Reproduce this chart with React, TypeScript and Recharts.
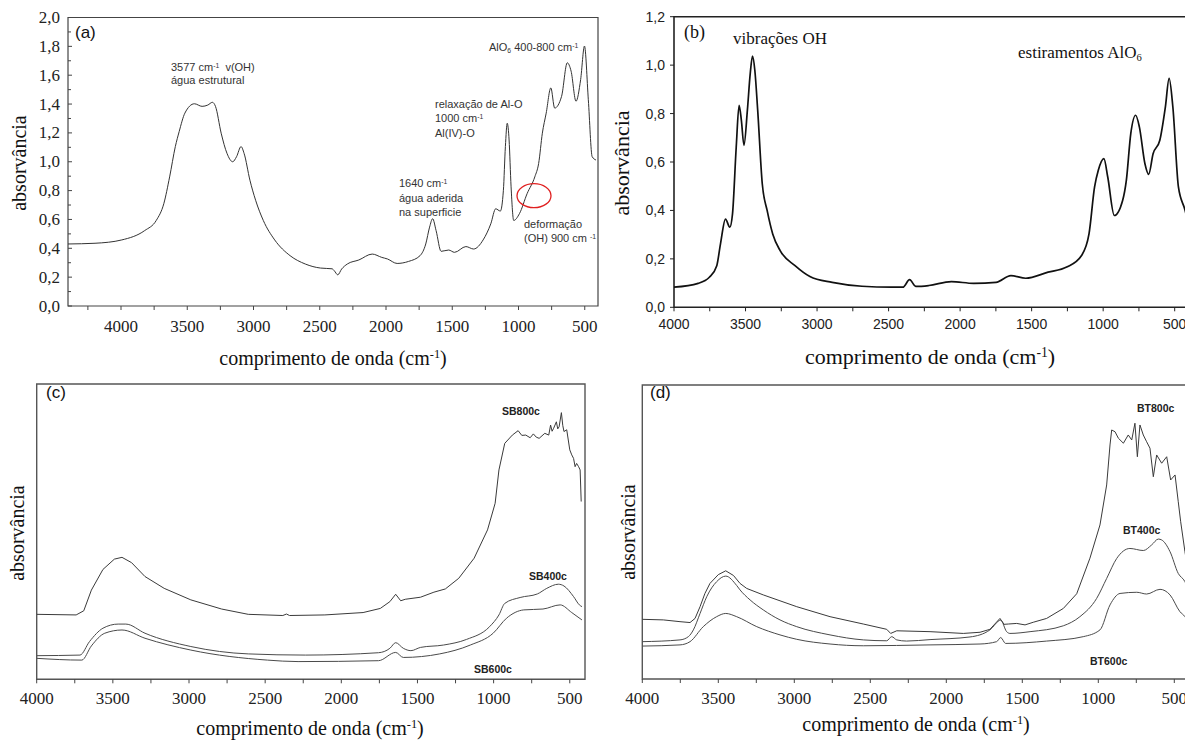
import React from "react";
import {
  LineChart,
  Line,
  XAxis,
  YAxis,
  ReferenceArea,
  ReferenceDot,
} from "recharts";

const SERIF = "'Liberation Serif', 'Times New Roman', serif";
const SANS = "'Liberation Sans', Arial, sans-serif";

// [número de onda (cm-1), absorvância]
const amostraA = [
  [4400, 0.43], [4196, 0.435], [3994, 0.458], [3821, 0.523], [3734, 0.593],
  [3677, 0.709], [3633, 0.895], [3590, 1.105], [3561, 1.209], [3518, 1.337],
  [3446, 1.402], [3388, 1.384], [3345, 1.393], [3310, 1.412], [3287, 1.384],
  [3244, 1.198], [3200, 1.058], [3157, 1.0], [3128, 1.035], [3094, 1.105],
  [3071, 1.058], [3027, 0.872], [2984, 0.733], [2926, 0.593], [2840, 0.458],
  [2724, 0.349], [2609, 0.291], [2494, 0.263], [2407, 0.258], [2390, 0.244],
  [2364, 0.216], [2335, 0.256], [2292, 0.291], [2205, 0.319], [2104, 0.36],
  [2032, 0.337], [1989, 0.326], [1916, 0.295], [1830, 0.309], [1743, 0.349],
  [1700, 0.43], [1671, 0.547], [1648, 0.605], [1622, 0.523], [1584, 0.379],
  [1527, 0.388], [1483, 0.372], [1397, 0.412], [1339, 0.395], [1267, 0.458],
  [1209, 0.57], [1172, 0.674], [1137, 0.658], [1114, 0.802], [1099, 1.105],
  [1085, 1.267], [1071, 1.151], [1056, 0.826], [1036, 0.593], [993, 0.64],
  [935, 0.779], [877, 0.895], [848, 0.988], [820, 1.198], [791, 1.337],
  [756, 1.512], [727, 1.372], [675, 1.453], [632, 1.686], [603, 1.628],
  [566, 1.419], [531, 1.57], [502, 1.802], [473, 1.43], [444, 1.035],
  [415, 1.012],
];

const amostraB = [
  [4000, 0.083], [3831, 0.099], [3753, 0.124], [3701, 0.172], [3675, 0.262],
  [3640, 0.364], [3610, 0.331], [3591, 0.386], [3565, 0.662], [3545, 0.834],
  [3529, 0.772], [3511, 0.669], [3487, 0.814], [3467, 0.966], [3451, 1.037],
  [3435, 0.979], [3415, 0.814], [3383, 0.51], [3349, 0.4], [3310, 0.303],
  [3258, 0.234], [3154, 0.172], [3050, 0.127], [2894, 0.103], [2686, 0.087],
  [2478, 0.083], [2400, 0.083], [2353, 0.114], [2309, 0.086], [2218, 0.09],
  [2061, 0.106], [1905, 0.099], [1749, 0.103], [1645, 0.131], [1541, 0.12],
  [1385, 0.145], [1255, 0.166], [1151, 0.214], [1099, 0.303], [1060, 0.497],
  [1034, 0.566], [995, 0.614], [968, 0.538], [922, 0.379], [864, 0.441],
  [838, 0.524], [807, 0.717], [773, 0.793], [747, 0.745], [708, 0.593],
  [682, 0.549], [651, 0.634], [604, 0.69], [565, 0.828], [539, 0.945],
  [513, 0.828], [474, 0.497], [427, 0.4], [400, 0.33],
];

// (c) escala arbitrária
const sb800 = [
  [4000, 0.22], [3741, 0.218], [3691, 0.232], [3641, 0.302], [3565, 0.372],
  [3490, 0.407], [3440, 0.413], [3377, 0.395], [3289, 0.348], [3163, 0.308],
  [2988, 0.269], [2786, 0.238], [2611, 0.22], [2384, 0.216], [2360, 0.221],
  [2340, 0.216], [2108, 0.218], [1857, 0.226], [1744, 0.24], [1681, 0.263],
  [1643, 0.288], [1610, 0.266], [1580, 0.271], [1480, 0.278], [1392, 0.295],
  [1317, 0.306], [1229, 0.342], [1128, 0.41], [1040, 0.506], [990, 0.596],
  [965, 0.709], [927, 0.799], [877, 0.827], [839, 0.842], [815, 0.826],
  [789, 0.827], [760, 0.818], [739, 0.831], [720, 0.82], [701, 0.816],
  [664, 0.833], [638, 0.827], [626, 0.861], [616, 0.84], [606, 0.85],
  [588, 0.872], [579, 0.848], [570, 0.855], [555, 0.903], [546, 0.86],
  [538, 0.839], [520, 0.845], [500, 0.777], [487, 0.76], [475, 0.748],
  [465, 0.72], [455, 0.731], [442, 0.72], [432, 0.709], [425, 0.602],
];
const sb400 = [
  [4000, 0.08], [3716, 0.082], [3653, 0.128], [3565, 0.173], [3465, 0.187],
  [3415, 0.187], [3289, 0.156], [2988, 0.111], [2611, 0.086], [2234, 0.082],
  [1756, 0.09], [1681, 0.105], [1643, 0.124], [1593, 0.105], [1543, 0.097],
  [1480, 0.108], [1329, 0.116], [1178, 0.135], [1027, 0.178], [965, 0.218],
  [927, 0.257], [826, 0.277], [713, 0.289], [651, 0.308], [575, 0.322],
  [538, 0.316], [475, 0.28], [437, 0.252], [420, 0.246],
];
const sb600 = [
  [4000, 0.071], [3704, 0.065], [3641, 0.113], [3553, 0.156], [3440, 0.167],
  [3289, 0.139], [2988, 0.099], [2485, 0.065], [2284, 0.06], [1756, 0.063],
  [1643, 0.091], [1593, 0.074], [1354, 0.086], [1153, 0.116], [1003, 0.156],
  [915, 0.207], [802, 0.235], [676, 0.238], [563, 0.252], [487, 0.226],
  [420, 0.201],
];

// (d) escala arbitrária
const bt800 = [
  [4000, 0.203], [3862, 0.201], [3752, 0.195], [3686, 0.192], [3653, 0.206],
  [3620, 0.246], [3588, 0.291], [3555, 0.325], [3500, 0.355], [3451, 0.368],
  [3400, 0.352], [3357, 0.325], [3313, 0.308], [3204, 0.286], [2984, 0.246],
  [2765, 0.212], [2546, 0.187], [2392, 0.169], [2366, 0.155], [2326, 0.164],
  [2107, 0.161], [1888, 0.155], [1778, 0.159], [1713, 0.169], [1647, 0.206],
  [1620, 0.186], [1592, 0.187], [1537, 0.189], [1482, 0.184], [1428, 0.193],
  [1340, 0.206], [1230, 0.24], [1142, 0.29], [1055, 0.411], [989, 0.524],
  [945, 0.66], [923, 0.796], [912, 0.847], [890, 0.841], [868, 0.819],
  [835, 0.802], [803, 0.83], [780, 0.813], [759, 0.87], [743, 0.756],
  [726, 0.864], [704, 0.83], [682, 0.807], [660, 0.785], [638, 0.688],
  [616, 0.762], [583, 0.734], [550, 0.756], [524, 0.677], [495, 0.694],
  [474, 0.603], [458, 0.535], [430, 0.433], [410, 0.37],
];
const bt400 = [
  [4000, 0.127], [3752, 0.133], [3697, 0.144], [3664, 0.167], [3620, 0.223],
  [3576, 0.28], [3511, 0.331], [3451, 0.35], [3379, 0.318], [3357, 0.303],
  [3291, 0.269], [3204, 0.235], [3094, 0.201], [2984, 0.178], [2765, 0.15],
  [2546, 0.133], [2392, 0.13], [2359, 0.144], [2326, 0.133], [2261, 0.129],
  [2107, 0.134], [1844, 0.143], [1713, 0.167], [1642, 0.2], [1603, 0.161],
  [1581, 0.155], [1449, 0.161], [1230, 0.181], [1121, 0.212], [1011, 0.274],
  [945, 0.342], [879, 0.41], [792, 0.444], [704, 0.437], [649, 0.456],
  [605, 0.476], [583, 0.473], [528, 0.433], [474, 0.359], [430, 0.331],
  [405, 0.3],
];
const bt600 = [
  [4000, 0.112], [3752, 0.116], [3686, 0.127], [3599, 0.178], [3511, 0.212],
  [3451, 0.223], [3379, 0.212], [3247, 0.178], [3094, 0.15], [2984, 0.135],
  [2765, 0.119], [2546, 0.113], [2107, 0.116], [1778, 0.119], [1669, 0.127],
  [1642, 0.141], [1610, 0.121], [1340, 0.129], [1099, 0.144], [989, 0.167],
  [923, 0.252], [857, 0.291], [747, 0.295], [682, 0.289], [594, 0.305],
  [528, 0.286], [463, 0.229], [430, 0.212], [405, 0.19],
];

const ticksX = [500, 750, 1000, 1250, 1500, 1750, 2000, 2250, 2500, 2750, 3000, 3250, 3500, 3750, 4000];
const ticksXA = [...ticksX, 4250];
const ticksYA = [0, 0.1, 0.2, 0.3, 0.4, 0.5, 0.6, 0.7, 0.8, 0.9, 1, 1.1, 1.2, 1.3, 1.4, 1.5, 1.6, 1.7, 1.8, 1.9, 2];
const ticksYB = [0, 0.2, 0.4, 0.6, 0.8, 1, 1.2];

const pts = (arr: number[][]) => arr.map(([wn, a]) => ({ wn, a }));
const virgula = (v: number) => v.toFixed(1).replace(".", ",");

const xTick = (font: string, size: number, gap: number, color: string) => (p: any) => {
  const v = p.payload.value;
  return (
    <g>
      <line x1={p.x} y1={p.y} x2={p.x} y2={p.y + 4} stroke={color} strokeWidth={1} />
      {v % 500 === 0 && (
        <text x={p.x} y={p.y + gap} textAnchor="middle" dominantBaseline="central"
          fontFamily={font} fontSize={size} fill="#222">
          {v}
        </text>
      )}
    </g>
  );
};

const yTickA = (p: any) => {
  const v = p.payload.value;
  const major = Math.round(v * 10) % 2 === 0;
  return (
    <g>
      <line x1={p.x} y1={p.y} x2={p.x + (major ? 4 : 3)} y2={p.y} stroke="#444" strokeWidth={1} />
      {major && (
        <text x={p.x - 8} y={p.y} textAnchor="end" dominantBaseline="central"
          fontFamily={SERIF} fontSize={17} fill="#222">
          {virgula(v)}
        </text>
      )}
    </g>
  );
};

const yTickB = (p: any) => (
  <g>
    <line x1={p.x} y1={p.y} x2={p.x - 4} y2={p.y} stroke="#222" strokeWidth={1} />
    <text x={p.x - 9} y={p.y} textAnchor="end" dominantBaseline="central"
      fontFamily={SANS} fontSize={14} fill="#222">
      {virgula(p.payload.value)}
    </text>
  </g>
);

const Note = ({ x, y, size, font = SANS, color = "#333", children }: any) => (
  <div style={{ position: "absolute", left: x, top: y - size * 0.6, fontSize: size,
    lineHeight: `${size * 1.2}px`, fontFamily: font, color, whiteSpace: "nowrap" }}>
    {children}
  </div>
);

const Sup = ({ children }: any) => (
  <span style={{ fontSize: "0.62em", position: "relative", top: "-0.55em" }}>{children}</span>
);
const Sub = ({ children }: any) => (
  <span style={{ fontSize: "0.62em", position: "relative", top: "0.3em" }}>{children}</span>
);

const TituloX = ({ x, y, size = 20 }: any) => (
  <div style={{ position: "absolute", left: x, top: y, transform: "translate(-50%, -50%)",
    fontFamily: SERIF, fontSize: size, whiteSpace: "nowrap", color: "#111" }}>
    comprimento de onda (cm<Sup>-1</Sup>)
  </div>
);
const TituloY = ({ x, y, size = 20 }: any) => (
  <div style={{ position: "absolute", left: x, top: y,
    transform: "translate(-50%, -50%) rotate(-90deg)", fontFamily: SERIF, fontSize: size,
    whiteSpace: "nowrap", color: "#111" }}>
    absorvância
  </div>
);

const elipse = (p: any) => (
  <ellipse cx={p.cx} cy={p.cy} rx={17} ry={12} fill="none" stroke="#e02020" strokeWidth={1.3} />
);

const xCommon = {
  type: "number" as const,
  dataKey: "wn",
  reversed: true,
  allowDataOverflow: true,
  interval: 0 as const,
  height: 30,
  axisLine: false,
  tickLine: false,
  tickSize: 0,
  tickMargin: 0,
};

const App: React.FC = () => {
  return (
    <div style={{ position: "absolute", left: 0, top: 0, width: 1185, height: 742,
      overflow: "hidden", background: "#fff" }}>
      {/* (a) */}
      <div style={{ position: "absolute", left: 0, top: 0 }}>
        <LineChart width={610} height={370} margin={{ top: 17.5, right: 12, bottom: 34, left: 8 }}>
          <XAxis {...xCommon} domain={[400, 4400]} ticks={ticksXA} tick={xTick(SERIF, 17, 20, "#444")} />
          <YAxis type="number" domain={[0, 2]} ticks={ticksYA} interval={0} width={60}
            allowDataOverflow axisLine={false} tickLine={false} tickSize={0} tickMargin={0} tick={yTickA} />
          <ReferenceArea x1={400} x2={4400} y1={0} y2={2} fill="none" stroke="#444" strokeWidth={1.2} />
          <ReferenceDot x={883} y={0.765} r={12} shape={elipse} />
          <Line data={pts(amostraA)} dataKey="a" type="monotone" stroke="#333" strokeWidth={1}
            dot={false} isAnimationActive={false} />
        </LineChart>
      </div>

      {/* (b) */}
      <div style={{ position: "absolute", left: 600, top: 0 }}>
        <LineChart width={600} height={370} margin={{ top: 16.7, right: 11, bottom: 32.7, left: 14 }}>
          <XAxis {...xCommon} domain={[400, 4000]} ticks={ticksX} tick={xTick(SANS, 14, 17, "#222")} />
          <YAxis type="number" domain={[0, 1.2]} ticks={ticksYB} interval={0} width={60}
            allowDataOverflow axisLine={false} tickLine={false} tickSize={0} tickMargin={0} tick={yTickB} />
          <ReferenceArea x1={400} x2={4000} y1={0} y2={1.2} fill="none" stroke="#222" strokeWidth={1.6} />
          <Line data={pts(amostraB)} dataKey="a" type="monotone" stroke="#111" strokeWidth={1.7}
            dot={false} isAnimationActive={false} />
        </LineChart>
      </div>

      {/* (c) */}
      <div style={{ position: "absolute", left: 0, top: 370 }}>
        <LineChart width={600} height={372} margin={{ top: 14, right: 15, bottom: 32.7, left: 36.7 }}>
          <XAxis {...xCommon} domain={[400, 4000]} ticks={ticksX} tick={xTick(SERIF, 17, 19, "#444")} />
          <YAxis hide type="number" domain={[0, 1]} allowDataOverflow />
          <ReferenceArea x1={400} x2={4000} y1={0} y2={1} fill="none" stroke="#555" strokeWidth={1.4} />
          <Line data={pts(sb800)} dataKey="a" type="linear" stroke="#3a3a3a" strokeWidth={1}
            dot={false} isAnimationActive={false} />
          <Line data={pts(sb400)} dataKey="a" type="monotone" stroke="#4a4a4a" strokeWidth={1}
            dot={false} isAnimationActive={false} />
          <Line data={pts(sb600)} dataKey="a" type="monotone" stroke="#4a4a4a" strokeWidth={1}
            dot={false} isAnimationActive={false} />
        </LineChart>
      </div>

      {/* (d) */}
      <div style={{ position: "absolute", left: 600, top: 370 }}>
        <LineChart width={600} height={372} margin={{ top: 15, right: 10.5, bottom: 33, left: 42.3 }}>
          <XAxis {...xCommon} domain={[400, 4000]} ticks={ticksX} tick={xTick(SERIF, 17, 19, "#444")} />
          <YAxis hide type="number" domain={[0, 1]} allowDataOverflow />
          <ReferenceArea x1={400} x2={4000} y1={0} y2={1} fill="none" stroke="#555" strokeWidth={1.4} />
          <Line data={pts(bt800)} dataKey="a" type="linear" stroke="#3a3a3a" strokeWidth={1}
            dot={false} isAnimationActive={false} />
          <Line data={pts(bt400)} dataKey="a" type="monotone" stroke="#4a4a4a" strokeWidth={1}
            dot={false} isAnimationActive={false} />
          <Line data={pts(bt600)} dataKey="a" type="monotone" stroke="#4a4a4a" strokeWidth={1}
            dot={false} isAnimationActive={false} />
        </LineChart>
      </div>

      {/* títulos dos eixos */}
      <TituloX x={333} y={358} />
      <TituloY x={19} y={163} />
      <TituloX x={930} y={357} size={22} />
      <TituloY x={622} y={163} size={22} />
      <TituloX x={310} y={728} />
      <TituloY x={17} y={533} />
      <TituloX x={916} y={724} />
      <TituloY x={628} y={532} />

      {/* anotações (a) */}
      <Note x={75} y={33} size={17} color="#111">(a)</Note>
      <Note x={171} y={68} size={11}>3577 cm<Sup>-1</Sup>&nbsp; v(OH)</Note>
      <Note x={171} y={81} size={11}>água estrutural</Note>
      <Note x={435} y={104.5} size={11}>relaxação de Al-O</Note>
      <Note x={435} y={119} size={11}>1000 cm<Sup>-1</Sup></Note>
      <Note x={435} y={133.5} size={11}>Al(IV)-O</Note>
      <Note x={399} y={184} size={11}>1640 cm<Sup>-1</Sup></Note>
      <Note x={399} y={199} size={11}>água aderida</Note>
      <Note x={399} y={212.5} size={11}>na superficie</Note>
      <Note x={489} y={48} size={11}>AlO<Sub>6</Sub> 400-800 cm<Sup>-1</Sup></Note>
      <Note x={524} y={225} size={11}>deformação</Note>
      <Note x={524} y={239} size={11}>(OH) 900 cm&nbsp;<Sup>-1</Sup></Note>

      {/* anotações (b) */}
      <Note x={684} y={33} size={18} font={SERIF} color="#111">(b)</Note>
      <Note x={733} y={39} size={17} font={SERIF} color="#111">vibrações OH</Note>
      <Note x={1018} y={53} size={17} font={SERIF} color="#111">estiramentos AlO<Sub>6</Sub></Note>

      {/* anotações (c) */}
      <Note x={46} y={393} size={17} color="#111">(c)</Note>
      <Note x={502} y={411} size={10.5} color="#222"><b>SB800c</b></Note>
      <Note x={529} y={576} size={10.5} color="#222"><b>SB400c</b></Note>
      <Note x={474} y={669} size={10.5} color="#222"><b>SB600c</b></Note>

      {/* anotações (d) */}
      <Note x={650} y={393} size={17} color="#111">(d)</Note>
      <Note x={1137} y={408} size={10.5} color="#222"><b>BT800c</b></Note>
      <Note x={1123} y={530} size={10.5} color="#222"><b>BT400c</b></Note>
      <Note x={1090} y={661} size={10.5} color="#222"><b>BT600c</b></Note>
    </div>
  );
};

export default App;
